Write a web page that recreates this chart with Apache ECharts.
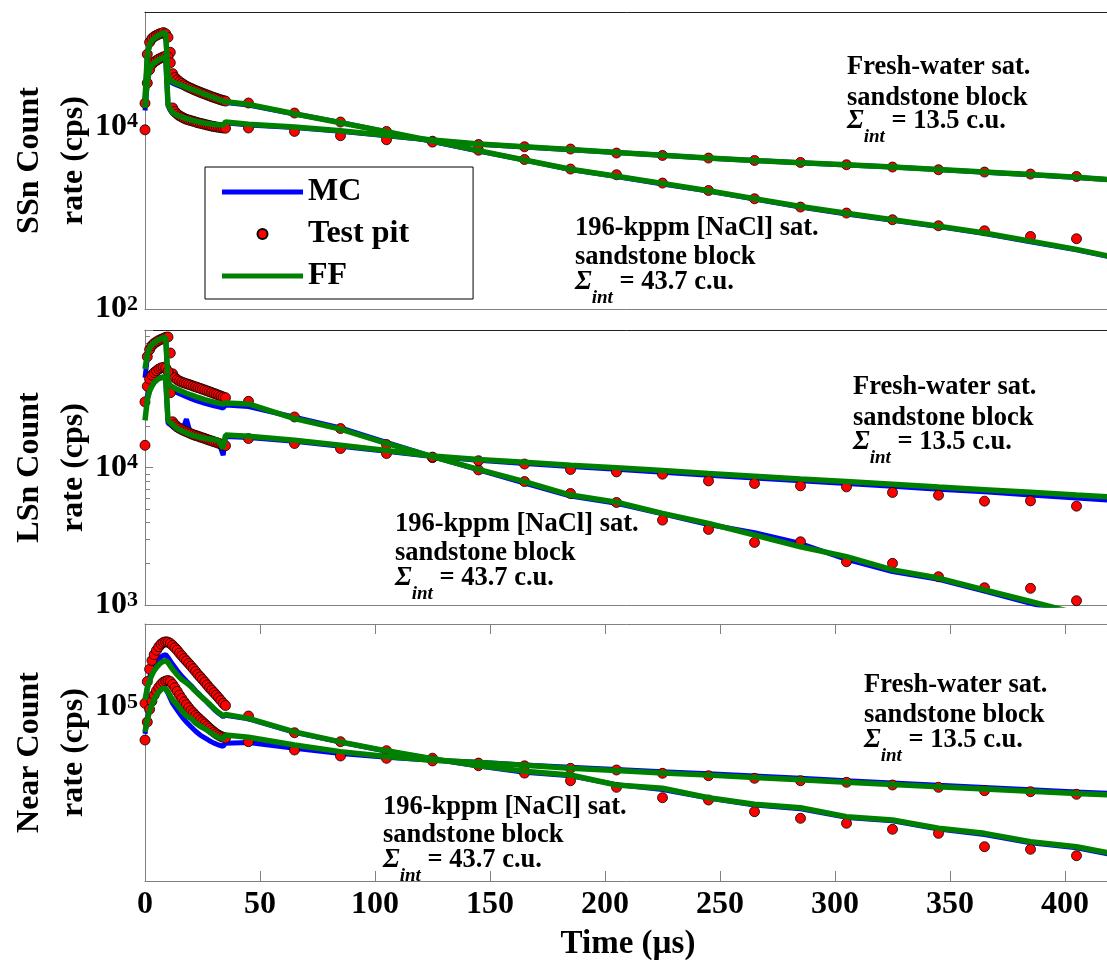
<!DOCTYPE html>
<html><head><meta charset="utf-8">
<script src="https://cdn.jsdelivr.net/npm/echarts@6/dist/echarts.min.js"></script>
<style>html,body{margin:0;padding:0;background:#fff}#c{width:1107px;height:960px}</style>
</head><body><div id="c"></div>
<script>
const FONT = '"Liberation Serif", "Times New Roman", serif';

// ---- time grids (µs) ----
const tDense = [0,1,2,3,4,5,6,7,8,9,10,11,12,13,14,15,16,17,18,19,20,21,22,23,24,25,26,27,28,29,30,31,32,33,34,35];
const tSparse = [45,65,85,105,125,145,165,185,205,225,245,265,285,305,325,345,365,385,405];
const tLine = [0,1,2,3,4,5,6,7,8,9,10,11,12,14,16,18,20,22,24,26,28,30,32,34,35,45,65,85,105,125,145,165,185,205,225,245,265,285,305,325,345,365,385,405,420];
const tPit = tDense.concat(tSparse);

// ---- SSn detector (cps) ----
const ssnPitSalt = [18000,62000,84000,92000,97000,100000,103000,105000,107000,104000,95000,65000,38000,34500,32500,31000,29800,28700,27700,26900,26200,25500,24900,24300,23700,23200,22700,22200,21700,21200,20800,20400,20000,19600,19300,19000,
  18100,14060,11200,8840,6900,5500,4350,3420,2960,2400,1990,1615,1310,1126,951,817,720,624,589];
const ssnPitFresh = [9200,30000,42000,48000,51000,53000,55000,56500,58000,59000,58000,50000,16000,14600,13700,13100,12700,12300,12000,11800,11600,11400,11200,11000,10850,10700,10550,10400,10250,10100,10000,9900,9800,9700,9650,9600,
  9630,8840,7930,7165,6750,6350,6000,5666,5121,4820,4514,4249,4041,3812,3596,3359,3170,3014,2837];
const ssnFFSalt = [20000,60000,80000,88000,93000,97000,100000,103000,106000,106000,36000,32500,31000,29500,28200,27000,25800,24700,23600,22600,21600,20700,19800,18900,18700,
  17500,13800,11000,8800,6950,5450,4300,3400,2850,2380,1980,1620,1330,1120,950,810,680,555,450,376];
const ssnMCSalt = [19000,58000,78000,87000,92000,96000,99000,102000,105000,104000,34000,31000,29800,28400,27200,26100,25000,24000,23000,22000,21100,20200,19400,18500,18300,
  17200,13700,11100,8700,6850,5400,4280,3380,2830,2340,1960,1600,1310,1100,940,800,670,545,445,370];
const ssnFFFresh = [16000,32000,42000,47000,50000,52000,54000,55500,57000,57500,17500,15500,14200,13300,12700,12200,11800,11450,11150,10900,10700,10550,10450,10400,11200,
  10600,9900,9000,8000,7100,6450,6000,5600,5200,4850,4520,4250,4020,3800,3600,3380,3170,2980,2780,2610];
const ssnMCFresh = [15000,31000,41000,46000,49500,51500,53500,55000,56500,57000,17000,15000,13900,13000,12400,11900,11500,11200,10900,10650,10450,10300,10200,10100,11000,
  10400,9750,8900,7900,7050,6400,5950,5580,5180,4840,4500,4230,4000,3790,3590,3370,3160,2970,2770,2600];

// ---- LSn detector (cps) ----
const lsnPitSalt = [30000,64000,72000,77000,80000,82000,84000,85500,87000,88500,89000,68000,48000,45000,43500,42500,41800,41200,40700,40200,39700,39100,38600,38100,37600,37100,36600,36100,35600,35100,34600,34100,33600,33100,32600,32200,
  30300,23300,19200,14690,11800,9600,7900,6475,5568,4143,3546,2853,2882,2063,2008,1605,1335,1322,1074];
const lsnPitFresh = [14500,39000,44000,47000,49000,50500,52000,53000,53500,53000,50000,35000,21500,20500,19800,19300,18900,18500,18200,17900,17600,17300,17100,16900,16650,16450,16250,16000,15800,15600,15400,15200,15000,14800,14500,14400,
  16240,14940,13740,12640,11900,11200,10600,9672,9290,8940,7993,7652,7354,7231,6581,6291,5690,5718,5235];
const lsnFFSalt = [52000,66000,74000,78000,81000,83000,85000,86500,88000,88500,42000,39500,38500,37000,35800,34700,33700,32800,32000,31200,30500,29900,29400,28900,29500,
  29000,22700,19000,15000,12000,9700,7900,6300,5600,4640,3920,3230,2650,2250,1800,1570,1290,1060,870,740];
const lsnMCSalt = [45000,62000,72000,77000,80000,82500,84500,86000,87500,88000,40000,37500,36500,35000,33800,32700,31700,30800,30000,29300,28700,28100,27600,27100,28500,
  27800,23200,19400,15200,12000,9600,7700,6200,5500,4600,3850,3350,2800,2150,1750,1540,1260,1030,850,720];
const lsnFFFresh = [22000,31000,36000,39000,41500,43000,44300,45000,45500,44000,22000,21200,20500,19200,18400,17800,17300,16900,16600,16300,16100,15900,15700,13800,17200,
  16900,15800,14500,13300,12100,11450,10900,10400,9950,9500,9050,8650,8250,7900,7550,7200,6900,6600,6300,6100];
const lsnMCFresh = [28000,33000,37000,40000,42000,43500,44500,45200,45500,43000,21000,20500,19800,18700,18000,22500,17200,16800,16400,16100,15900,15700,15400,12300,16800,
  16500,15500,14300,13100,12000,11300,10700,10150,9700,9250,8800,8400,8000,7650,7300,6950,6650,6300,6000,5790];

// ---- Near detector (cps) ----
const nearPitSalt = [105000,140000,165000,185000,200000,212000,222000,230000,235000,237000,236000,232000,226000,219000,212000,204000,197000,190000,184000,178000,172000,166000,160000,154000,149000,144000,139000,134000,129000,125000,121000,117000,113000,109000,105000,102000,
  88800,71160,63200,56100,50800,46000,41700,37710,34550,30110,29210,25020,22920,21460,19820,18790,15740,15210,13970];
const nearPitFresh = [64600,82000,97000,108000,117000,124000,130000,135000,139000,141000,142000,140000,135000,129000,123000,117000,112000,107000,103000,99000,95500,92500,89500,87000,84500,82200,80000,77800,75600,73600,71800,70200,68900,67800,67000,66300,
  63200,56600,52300,50700,49000,47600,45900,44430,43440,41590,40290,38930,37710,36920,35620,34550,33040,32600,31500];
const nearFFSalt = [110000,128000,142000,153000,162000,169000,175000,180000,183000,185000,180000,172000,165000,153000,144000,138000,131000,123000,116000,110000,104000,98000,93000,89000,90500,
  86000,72000,63000,56000,50500,46000,42800,40650,35620,34100,30110,27600,26380,23440,22440,20090,18790,16820,15740,14420];
const nearMCSalt = [100000,130000,148000,162000,172000,181000,188000,194000,198000,200000,193000,184000,176000,162000,150000,141000,133000,124000,117000,110000,103000,97000,92000,88000,89500,
  85500,71500,62800,55700,50300,45800,42200,40200,35800,33600,30000,27300,26000,23200,22200,19900,18500,16600,15500,14200];
const nearFFFresh = [72000,84000,95000,103000,111000,117000,122000,126000,128000,127000,122000,116000,110000,103000,95000,89000,86000,81000,77500,75000,72000,69000,67000,65500,69000,
  67000,60500,55400,51900,49500,48000,46200,44500,43100,41800,40600,39400,38200,37000,35900,34800,33800,32800,31800,31200];
const nearMCFresh = [70000,86000,98000,107000,114000,120000,124000,127000,129000,127000,120000,112000,105000,96000,88000,82000,77000,72500,69000,66500,64000,62000,60500,59500,62000,
  62500,58000,54000,51500,49500,48100,46400,45000,43800,42500,41300,40100,38900,37700,36600,35500,34500,33500,32500,31900];

// ---- axis / tick labels ----
const xTicks = { min: 0, max: 420, interval: 50 };
const yRanges = [[100, 180000], [1000, 100000], [10000, 300000]];
const yLabelExps = [[2, 4], [3, 4], [5]];
const yTitles = ['SSn Count\nrate (cps)', 'LSn Count\nrate (cps)', 'Near Count\nrate (cps)'];
const legendNames = ['MC', 'Test pit', 'FF'];
const annFresh = ['Fresh-water sat.', 'sandstone block', '13.5 c.u.'];
const annSalt = ['196-kppm [NaCl] sat.', 'sandstone block', '43.7 c.u.'];

const panels = [
  { mcS: ssnMCSalt, mcF: ssnMCFresh, pS: ssnPitSalt, pF: ssnPitFresh, ffS: ssnFFSalt, ffF: ssnFFFresh },
  { mcS: lsnMCSalt, mcF: lsnMCFresh, pS: lsnPitSalt, pF: lsnPitFresh, ffS: lsnFFSalt, ffF: lsnFFFresh },
  { mcS: nearMCSalt, mcF: nearMCFresh, pS: nearPitSalt, pF: nearPitFresh, ffS: nearFFSalt, ffF: nearFFFresh }
];

const gridBoxes = [{ top: 12, height: 297 }, { top: 330, height: 275 }, { top: 624, height: 257 }];
const GRAY = '#808080';

function pairs(ts, vs) { return ts.map((t, i) => [t, vs[i]]); }

const grid = gridBoxes.map(g => ({ left: 145, right: -4, top: g.top, height: g.height, containLabel: false, outerBoundsMode: 'none' }));

const xAxis = [];
gridBoxes.forEach((g, i) => {
  const last = i === 2;
  xAxis.push({
    type: 'value', gridIndex: i, position: 'bottom', min: xTicks.min, max: xTicks.max, interval: xTicks.interval,
    axisLine: { show: true, lineStyle: { color: GRAY, width: 1 } },
    axisTick: { show: last, inside: true, length: 10, lineStyle: { color: GRAY } },
    axisLabel: { show: last, showMaxLabel: false, margin: 8, fontFamily: FONT, fontWeight: 'bold', fontSize: 32, color: '#000' },
    splitLine: { show: false },
    name: last ? 'Time (µs)' : '', nameLocation: 'middle', nameGap: 47, nameMoveOverlap: false,
    nameTextStyle: { fontFamily: FONT, fontWeight: 'bold', fontSize: 33, color: '#000' }
  });
  xAxis.push({
    type: 'value', gridIndex: i, position: 'top', min: xTicks.min, max: xTicks.max, interval: xTicks.interval,
    axisLine: { show: true, lineStyle: { color: last ? GRAY : '#222', width: 1 } },
    axisTick: { show: last, inside: true, length: 10, lineStyle: { color: GRAY } },
    axisLabel: { show: false }, splitLine: { show: false }
  });
});

const yAxis = gridBoxes.map((g, i) => ({
  type: 'log', logBase: 10, gridIndex: i, min: yRanges[i][0], max: yRanges[i][1], position: 'left',
  axisLine: { show: true, lineStyle: { color: GRAY, width: 1 } },
  axisTick: { show: i === 1, inside: true, length: 8, lineStyle: { color: GRAY } },
  minorTick: { show: i === 1, splitNumber: 9, length: 5, lineStyle: { color: GRAY } },
  splitLine: { show: false }, minorSplitLine: { show: false },
  axisLabel: {
    margin: 7,
    formatter: function (v) {
      const e = Math.round(Math.log10(v));
      if (Math.abs(Math.log10(v) - e) > 1e-6 || yLabelExps[i].indexOf(e) < 0) return '';
      return '{b|10}{s|' + e + '}';
    },
    rich: {
      b: { fontFamily: FONT, fontWeight: 'bold', fontSize: 32, lineHeight: 32, padding: [9, 0, 0, 0], verticalAlign: 'bottom', color: '#000' },
      s: { fontFamily: FONT, fontWeight: 'bold', fontSize: 22, lineHeight: 22, verticalAlign: 'top', color: '#000' }
    }
  },
  name: yTitles[i], nameLocation: 'middle', nameRotate: 90, nameGap: 49, nameMoveOverlap: false,
  nameTextStyle: { fontFamily: FONT, fontWeight: 'bold', fontSize: 32, lineHeight: 44, color: '#000' }
}));

const series = [];
panels.forEach((p, i) => {
  [p.mcS, p.mcF].forEach(d => series.push({
    type: 'line', name: legendNames[0], xAxisIndex: 2 * i, yAxisIndex: i, data: pairs(tLine, d),
    symbol: 'none', lineStyle: { color: '#0000ff', width: 5 }, itemStyle: { color: '#0000ff' }, z: 2, silent: true
  }));
  [p.pS, p.pF].forEach(d => series.push({
    type: 'scatter', name: legendNames[1], xAxisIndex: 2 * i, yAxisIndex: i, data: pairs(tPit, d),
    symbol: 'circle', symbolSize: 10, itemStyle: { color: '#ff0000', borderColor: '#000', borderWidth: 0.8, opacity: 1 }, z: 3, silent: true
  }));
  [p.ffS, p.ffF].forEach(d => series.push({
    type: 'line', name: legendNames[2], xAxisIndex: 2 * i, yAxisIndex: i, data: pairs(tLine, d),
    symbol: 'none', lineStyle: { color: '#008000', width: 5.5 }, itemStyle: { color: '#008000' }, z: 4, silent: true
  }));
});

// annotation text helper
const annStyleBase = { fontFamily: FONT, fontWeight: 'bold', fontSize: 26.5, lineHeight: 30, fill: '#000' };
function annBlock(x, yc, lines) {
  const els = [];
  for (let k = 0; k < 2; k++) {
    els.push({ type: 'text', x: x, y: yc[k] - 15, z: 10, silent: true,
      style: Object.assign({ text: lines[k], verticalAlign: 'top', align: 'left' }, annStyleBase) });
  }
  els.push({ type: 'text', x: x, y: yc[2] - 15, z: 10, silent: true,
    style: { text: '{S|Σ}{sub|int}{n| = ' + lines[2] + '}', verticalAlign: 'top', align: 'left',
      rich: {
        S: { fontFamily: FONT, fontStyle: 'italic', fontWeight: 'bold', fontSize: 27, lineHeight: 30, verticalAlign: 'top', fill: '#000' },
        sub: { fontFamily: FONT, fontStyle: 'italic', fontWeight: 'bold', fontSize: 19, lineHeight: 19, padding: [20, 0, 0, 0], verticalAlign: 'top', fill: '#000' },
        n: { fontFamily: FONT, fontWeight: 'bold', fontSize: 26.5, lineHeight: 30, verticalAlign: 'top', fill: '#000' }
      } } });
  return els;
}

const graphic = [].concat(
  annBlock(847, [67, 97.7, 122.7], annFresh),
  annBlock(575, [227.7, 257.3, 283.3], annSalt),
  annBlock(853, [386.7, 418.3, 443.3], annFresh),
  annBlock(395, [524, 553, 580], annSalt),
  annBlock(864, [685, 715, 741.7], annFresh),
  annBlock(383, [806.7, 835, 861.7], annSalt)
);

const lineIcon = 'path://M0 0H81V5H0Z';
const chart = echarts.init(document.getElementById('c'), null, { renderer: 'canvas' });
chart.setOption({
  animation: false,
  backgroundColor: '#fff',
  textStyle: { fontFamily: FONT },
  grid: grid, xAxis: xAxis, yAxis: yAxis, series: series, graphic: graphic,
  legend: {
    data: [{ name: legendNames[0], icon: lineIcon }, { name: legendNames[1], icon: 'circle' }, { name: legendNames[2], icon: lineIcon }],
    orient: 'vertical', left: 205, top: 167, padding: [9, 64, 7, 17], itemGap: 10,
    itemWidth: 81, itemHeight: 10, selectedMode: false, backgroundColor: '#fff', borderColor: '#000', borderWidth: 1,
    textStyle: { fontFamily: FONT, fontWeight: 'bold', fontSize: 32, color: '#000' }, z: 20
  }
});
</script></body></html>
